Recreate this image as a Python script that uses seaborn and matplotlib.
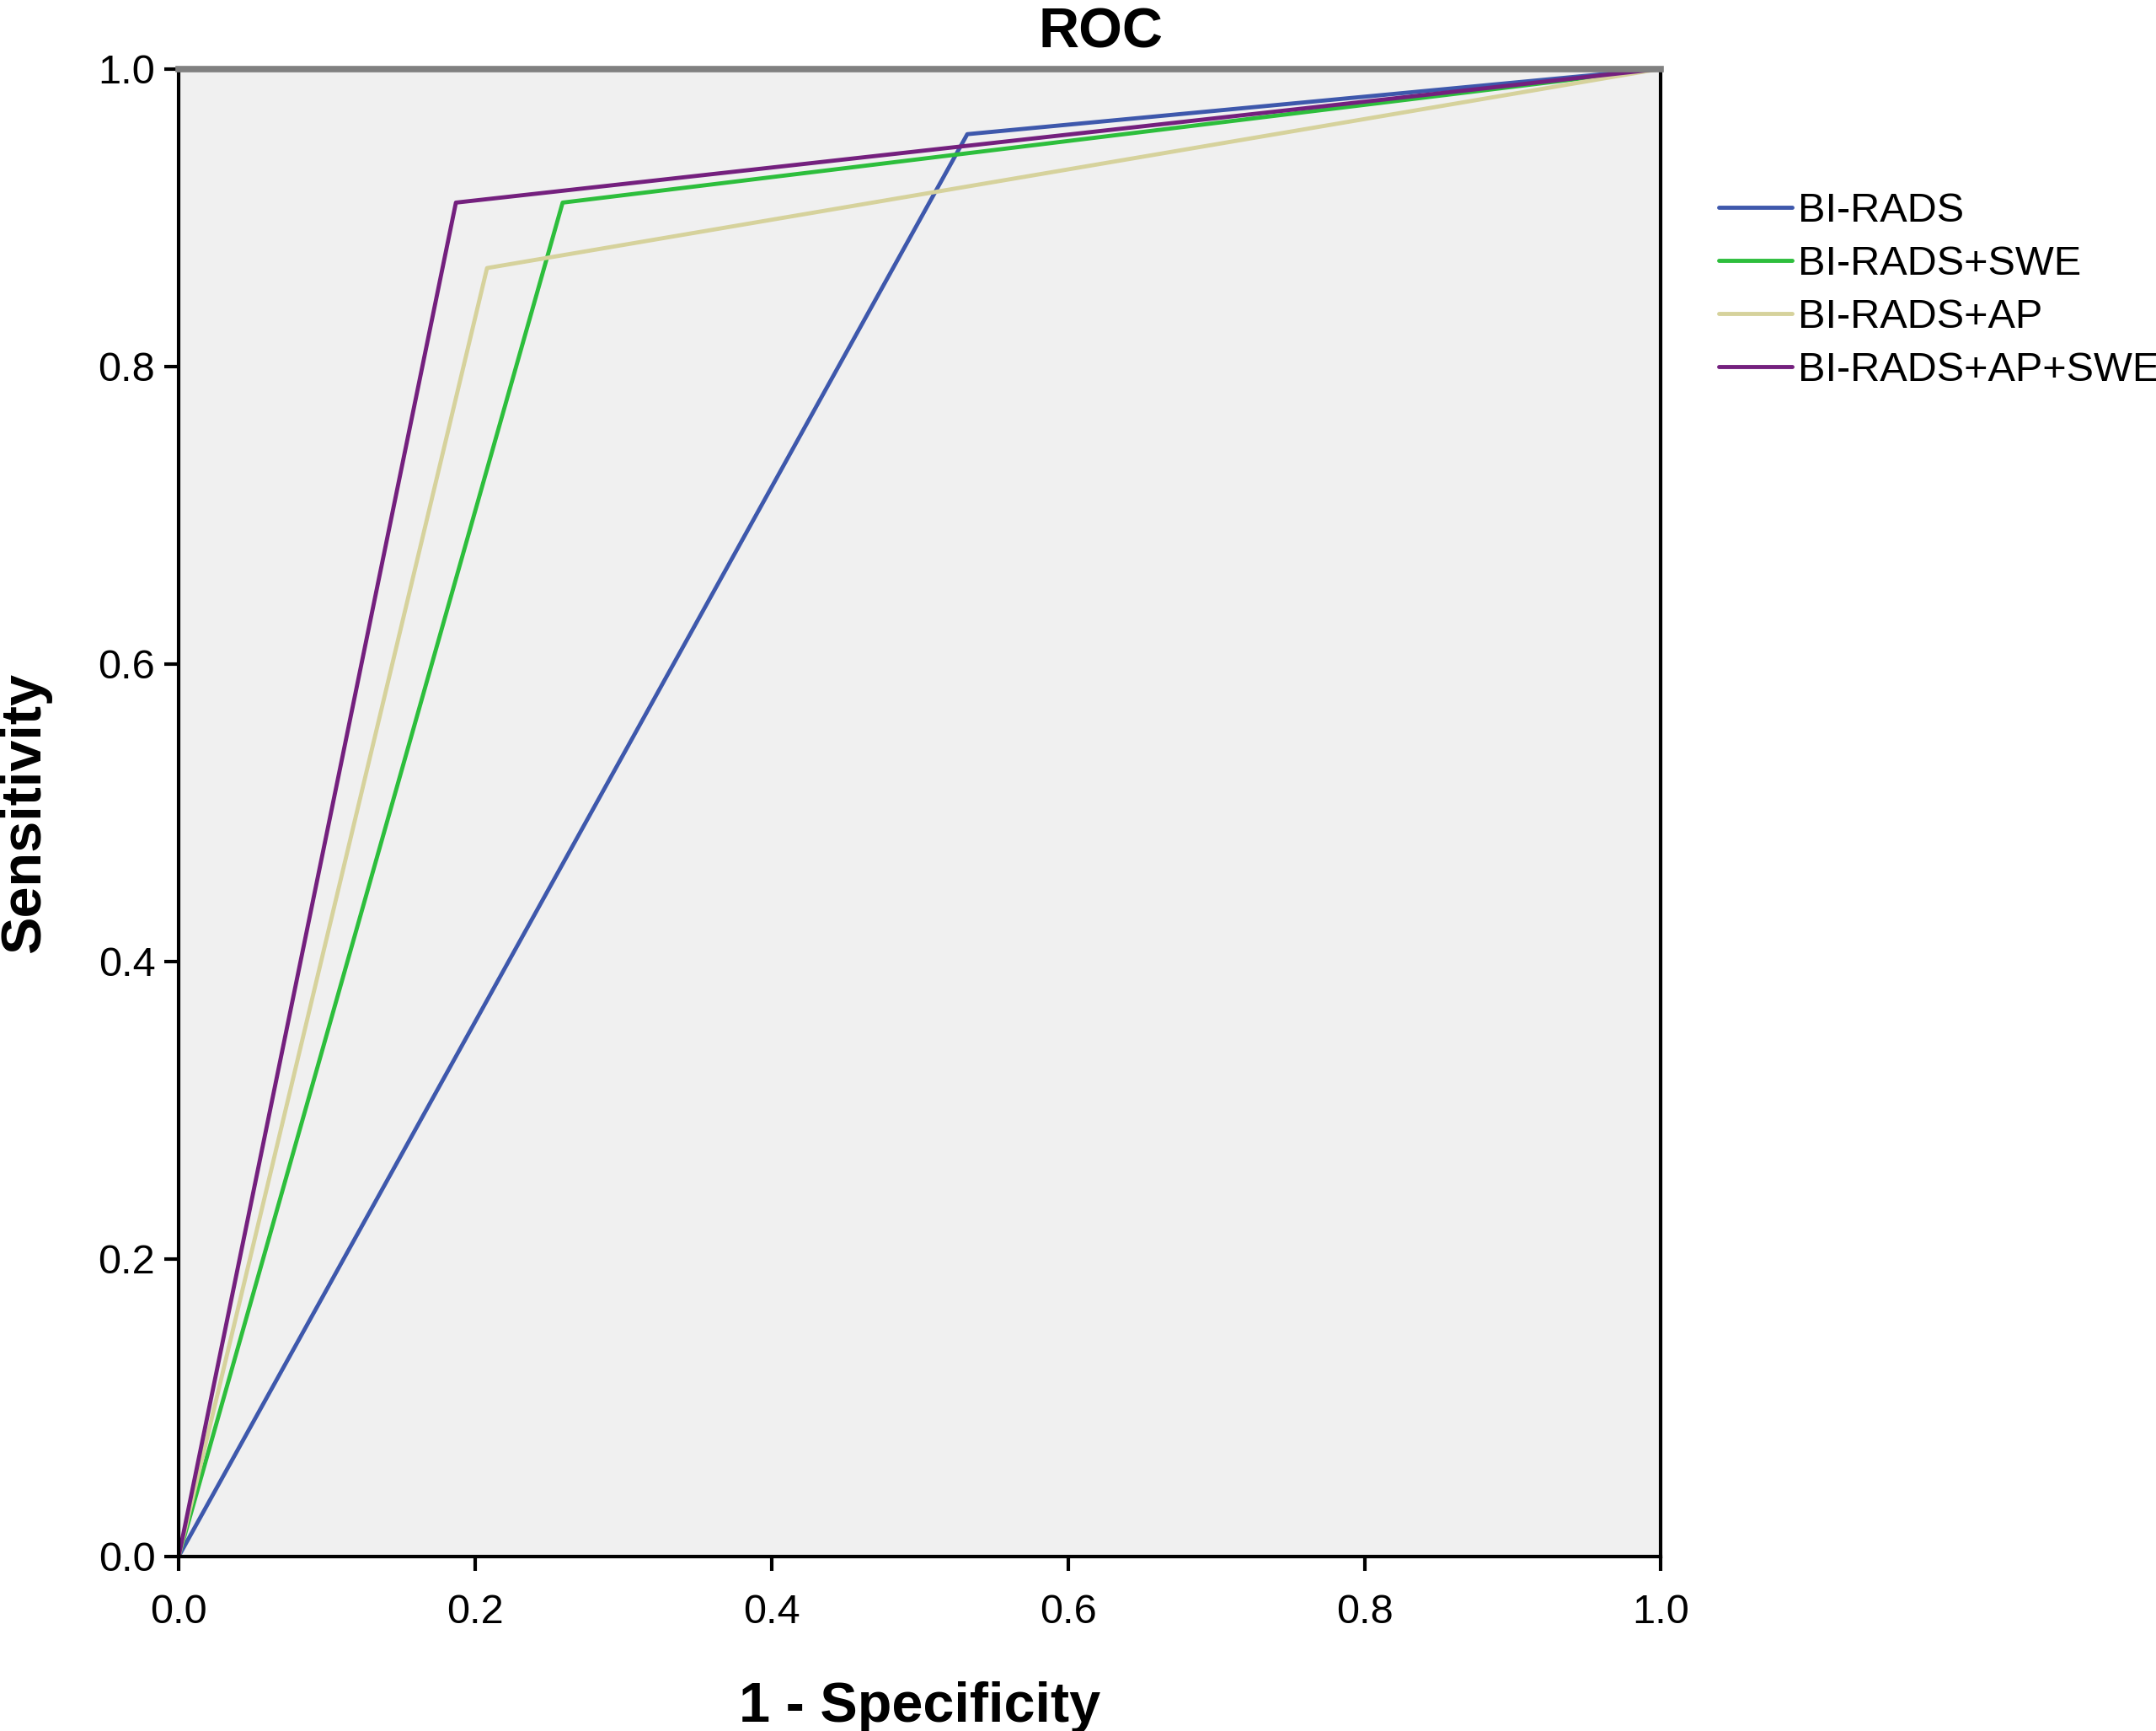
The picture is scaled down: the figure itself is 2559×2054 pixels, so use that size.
import pandas as pd
import matplotlib
matplotlib.use("Agg")
import matplotlib.pyplot as plt
import seaborn as sns

models = ["BI-RADS", "BI-RADS+SWE", "BI-RADS+AP", "BI-RADS+AP+SWE"]
fpr_bi_rads = [0.0, 0.532, 1.0]
tpr_bi_rads = [0.0, 0.956, 1.0]
fpr_swe = [0.0, 0.259, 1.0]
tpr_swe = [0.0, 0.910, 1.0]
fpr_ap = [0.0, 0.208, 1.0]
tpr_ap = [0.0, 0.866, 1.0]
fpr_ap_swe = [0.0, 0.187, 1.0]
tpr_ap_swe = [0.0, 0.910, 1.0]
colors = ["#3E58AC", "#2DBE3C", "#D6D29C", "#74207E"]
ticks = [0.0, 0.2, 0.4, 0.6, 0.8, 1.0]

rows = []
for name, xs, ys in zip(models,
                        [fpr_bi_rads, fpr_swe, fpr_ap, fpr_ap_swe],
                        [tpr_bi_rads, tpr_swe, tpr_ap, tpr_ap_swe]):
    for i, (x, y) in enumerate(zip(xs, ys)):
        rows.append({"Modèle": name, "fpr": x, "tpr": y, "ordre": i})
df = pd.DataFrame(rows)

sns.set_style("white")
plt.rcParams["font.family"] = ["Liberation Sans", "DejaVu Sans"]
plt.rcParams["text.color"] = "black"
plt.rcParams["axes.labelcolor"] = "black"
plt.rcParams["xtick.color"] = "black"
plt.rcParams["ytick.color"] = "black"

fig = plt.figure(figsize=(25.59, 20.54), dpi=100)
ax = fig.add_axes([0.0829, 0.1009, 0.6875, 0.8594])
ax.set_facecolor("#F0F0F0")

sns.lineplot(data=df, x="fpr", y="tpr", hue="Modèle", hue_order=models,
             palette=colors, sort=False, estimator=None, units="Modèle",
             linewidth=3.5, ax=ax)

ax.set_xlim(0, 1)
ax.set_ylim(0, 1)
ax.set_xticks(ticks)
ax.set_yticks(ticks)
ax.set_xticklabels([f"{t:.1f}" for t in ticks], fontsize=35)
ax.set_yticklabels([f"{t:.1f}" for t in ticks], fontsize=35)
ax.tick_params(axis="both", direction="out", length=12, width=3, color="black",
               bottom=True, left=True, pad=8)
ax.tick_params(axis="x", pad=20)

for side in ["left", "bottom", "right"]:
    ax.spines[side].set_color("black")
    ax.spines[side].set_linewidth(3)
ax.spines["top"].set_color("#808080")
ax.spines["top"].set_linewidth(5.5)

ax.set_title("ROC", fontsize=48, fontweight="bold", x=0.622, pad=18)
ax.set_xlabel("1 - Specificity", fontsize=48, fontweight="bold", labelpad=42)
ax.set_ylabel("Sensitivity", fontsize=48, fontweight="bold", labelpad=40)

ax.legend(loc="upper left", bbox_to_anchor=(0.797, 0.889),
          bbox_transform=fig.transFigure, frameon=False, fontsize=35,
          handlelength=1.8, handletextpad=0.15, labelspacing=0.37,
          borderpad=0, borderaxespad=0, title=None)

plt.savefig("out.png", dpi=100)
